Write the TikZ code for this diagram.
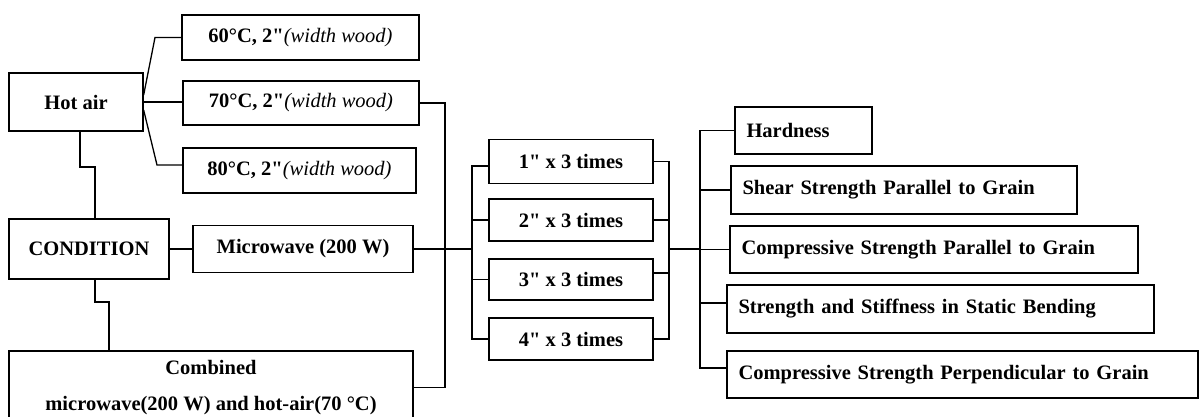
\documentclass[tikz,border=0pt]{standalone}
\usepackage{fontspec}
\setmainfont{Liberation Serif}[Ligatures=TeXOff]
\begin{document}
\begin{tikzpicture}[x=1pt,y=-1pt,
  box/.style={draw, line width=1.3pt, rectangle, inner sep=0pt, align=center, font=\fontsize{20.5}{24}\selectfont\bfseries},
  rbox/.style={draw, line width=1.3pt, rectangle, inner xsep=11.5pt, inner ysep=0pt, align=left, font=\fontsize{20.5}{24}\selectfont\bfseries},
  conn/.style={line width=1.3pt}]
\useasboundingbox (0,0) rectangle (1204,417);
\clip (0,0) rectangle (1204,417);
% left column
\node[box, minimum width=134pt, minimum height=58pt] (hot) at (76,102) {Hot air};
\node[box, minimum width=237pt, minimum height=45pt] (b60) at (300.5,37.5) {60°C, 2"\textmd{\itshape(width wood)}};
\node[box, minimum width=236pt, minimum height=44pt] (b70) at (301,103) {70°C, 2"\textmd{\itshape(width wood)}};
\node[box, minimum width=233pt, minimum height=45pt] (b80) at (299.5,170.5) {80°C, 2"\textmd{\itshape(width wood)}};
\node[box, minimum width=160pt, minimum height=60pt] (cond) at (89,249) {CONDITION};
\node[box, minimum width=220pt, minimum height=47pt] (micro) at (303,249) {Microwave (200 W)};
\node[box, minimum width=404pt, minimum height=73pt, font=\fontsize{20.5}{36}\selectfont\bfseries] (comb) at (211,387.5) {Combined\\microwave(200 W) and hot-air(70 °C)};
% middle
\node[box, minimum width=164pt, minimum height=44pt] (t1) at (571,161.5) {1" x 3 times};
\node[box, minimum width=164pt, minimum height=42pt] (t2) at (571,220) {2" x 3 times};
\node[box, minimum width=164pt, minimum height=41pt] (t3) at (571,279.5) {3" x 3 times};
\node[box, minimum width=164pt, minimum height=42pt] (t4) at (571,339) {4" x 3 times};
% right
\node[rbox, text width=114pt, minimum height=47pt] (r1) at (803.5,130.5) {Hardness};
\node[rbox, text width=323pt, minimum height=48pt] (r2) at (904,190) {Shear Strength Parallel to Grain};
\node[rbox, text width=385pt, minimum height=47pt] (r3) at (934,249.5) {Compressive Strength Parallel to Grain};
\node[rbox, text width=404pt, minimum height=48pt] (r4) at (940.5,309) {Strength and Stiffness in Static Bending};
\node[rbox, text width=448pt, minimum height=47pt] (r5) at (962.5,374.5) {Compressive Strength Perpendicular to Grain};
% junction coordinates
\coordinate (k1) at (80,167);
\coordinate (k2) at (95,167);
\coordinate (k3) at (95,302);
\coordinate (k4) at (109,302);
\coordinate (u1) at (155,37.5);
\coordinate (u3) at (157,165);
\coordinate (j1) at (445,249);
\coordinate (j2) at (472,249);
\coordinate (j3) at (669,249);
\coordinate (j4) at (700,249);
% connectors
\draw[conn] ([yshift=7pt]hot.east) -- (u1) -- (b60.west);
\draw[conn] (hot.east) -- (hot.east -| b70.west);
\draw[conn] ([yshift=-8pt]hot.east) -- (u3) -- (u3 -| b80.west);
\draw[conn] (hot.south -| k1) -- (k1) -- (k2) -- (cond.north -| k2);
\draw[conn] (cond.south -| k3) -- (k3) -- (k4) -- (comb.north -| k4);
\draw[conn] (cond.east) -- (micro.west);
\draw[conn] (b70.east) -| (j1);
\draw[conn] (comb.east) -| (j1);
\draw[conn] (micro.east) -- (j1) -- (j2);
\draw[conn] ([yshift=-4.5pt]t1.west) -| (j2) |- (t4.west);
\draw[conn] (t2.west) -- (t2.west -| j2);
\draw[conn] (t3.west) -- (t3.west -| j2);
\draw[conn] (t1.east) -| (j3) |- (t4.east);
\draw[conn] (t2.east) -- (t2.east -| j3);
\draw[conn] ([yshift=6.5pt]t3.east) -- ([yshift=6.5pt]t3.east -| j3);
\draw[conn] (j3) -- (j4);
\draw[conn] (r1.west) -| (j4) |- ([yshift=6.5pt]r5.west);
\draw[conn] (r2.west) -- (r2.west -| j4);
\draw[conn] (r3.west) -- (r3.west -| j4);
\draw[conn] ([yshift=6pt]r4.west) -- ([yshift=6pt]r4.west -| j4);
\end{tikzpicture}
\end{document}
